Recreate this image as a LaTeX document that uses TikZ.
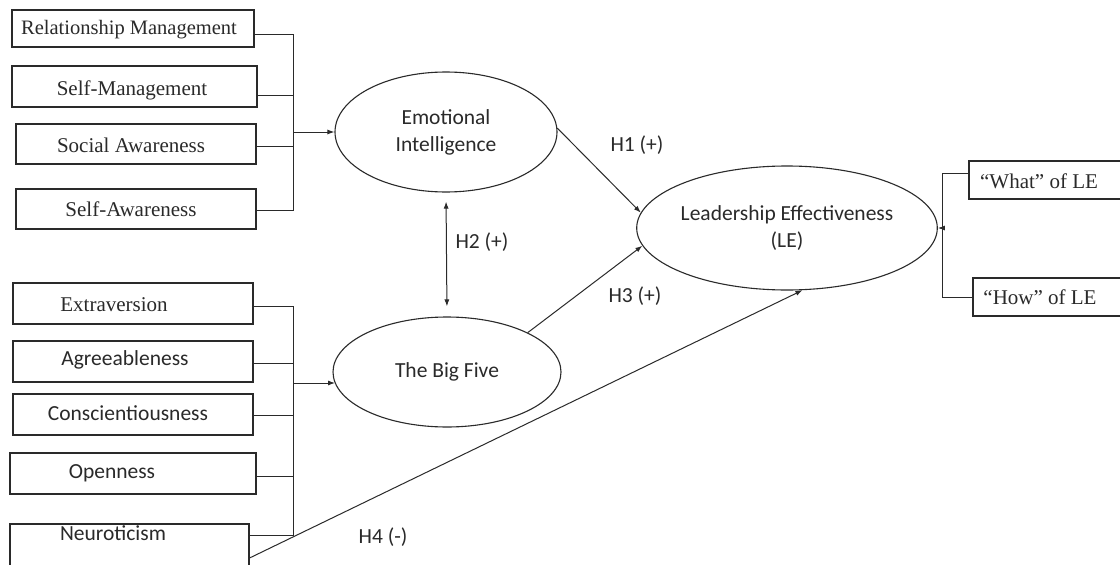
\documentclass[tikz,border=0pt]{standalone}
\usepackage{fontspec}
\setmainfont{Liberation Serif}
\newfontfamily\clbfont{Carlito}
\usetikzlibrary{shapes.geometric,arrows.meta}
\definecolor{ink}{HTML}{2A2A2A}
\begin{document}
\begin{tikzpicture}[x=1pt,y=-1pt,
  box/.style={draw=ink, line width=1.1pt, inner sep=0pt, rectangle},
  oval/.style={draw=ink, ellipse, line width=1.1pt, inner sep=0pt, align=center, text=ink,
    font=\clbfont\fontsize{21.5}{27}\selectfont},
  tms/.style={font=\fontsize{21}{25}\selectfont, inner sep=0pt, text=ink},
  clb/.style={font=\clbfont\fontsize{21.5}{26}\selectfont, inner sep=0pt, text=ink},
  conn/.style={draw=ink, line width=1pt},
  arr/.style={draw=ink, line width=1pt, -{Latex[length=7pt,width=5pt]}},
  dbl/.style={draw=ink, line width=1pt, {Latex[length=7pt,width=5pt]}-{Latex[length=7pt,width=5pt]}},
]
\clip (0,0) rectangle (1120,565);
\fill[white] (0,0) rectangle (1120,565);

% left boxes, emotional intelligence
\node[box, minimum width=242pt, minimum height=37pt] (rm) at (133,28.5) {};
\node[tms, font=\fontsize{20.5}{25}\selectfont] (rmT) at (129,30) {Relationship Management};
\node[box, minimum width=245pt, minimum height=41pt] (sm) at (134.5,86.5) {};
\node[tms] (smT) at (132,90) {Self-Management};
\node[box, minimum width=240pt, minimum height=40pt] (soc) at (136,144) {};
\node[tms] (socT) at (131,145) {Social Awareness};
\node[box, minimum width=240pt, minimum height=40pt] (sfa) at (136,209) {};
\node[tms] (sfaT) at (131,209) {Self-Awareness};

% left boxes, big five
\node[box, minimum width=240pt, minimum height=41pt] (ext) at (133,303.5) {};
\node[tms] (extT) at (114,305) {Extraversion};
\node[box, minimum width=240pt, minimum height=41pt] (agr) at (133,361.5) {};
\node[clb] (agrT) at (125,360) {Agreeableness};
\node[box, minimum width=240pt, minimum height=41pt] (con) at (133,414.5) {};
\node[clb] (conT) at (128,413) {Conscientiousness};
\node[box, minimum width=246pt, minimum height=41pt] (opn) at (133,473.5) {};
\node[clb] (opnT) at (112,473) {Openness};
\node[box, minimum width=239pt, minimum height=68pt] (neu) at (129.5,558) {};
\node[clb] (neuT) at (113,533) {Neuroticism};

% right boxes
\node[box, minimum width=161pt, minimum height=38pt] (what) at (1049.5,180) {};
\node[tms] (whatT) at (1039,181) {“What” of LE};
\node[box, minimum width=157pt, minimum height=38pt] (how) at (1051.5,297) {};
\node[tms] (howT) at (1040,297) {“How” of LE};

% ellipses
\node[oval, minimum width=222pt, minimum height=120pt] (ei) at (446,132) {Emotional\\Intelligence};
\node[oval, minimum width=228pt, minimum height=110pt] (bf) at (447,372) {The Big Five};
\node[oval, minimum width=250pt, minimum height=124pt] (le) at (787,228) {Leadership Effectiveness\\(LE)};

% brackets
\coordinate (eiTop) at (293,34);
\coordinate (eiJ2) at (293,95);
\coordinate (eiJ3) at (293,146);
\coordinate (eiBot) at (293,210);
\coordinate (eiMid) at (293,132);
\draw[conn] (rm.east |- eiTop) -- (eiTop) -- (eiBot) -- (sfa.east |- eiBot);
\draw[conn] (sm.east |- eiJ2) -- (eiJ2);
\draw[conn] (soc.east |- eiJ3) -- (eiJ3);
\draw[arr] (eiMid) -- (eiMid -| ei.west);

\coordinate (bTop) at (293,306);
\coordinate (bJ2) at (293,363);
\coordinate (bJ3) at (293,415);
\coordinate (bJ4) at (293,476);
\coordinate (bBot) at (293,535);
\coordinate (bMid) at (293,383);
\draw[conn] (ext.east |- bTop) -- (bTop) -- (bBot) -- (neu.east |- bBot);
\draw[conn] (agr.east |- bJ2) -- (bJ2);
\draw[conn] (con.east |- bJ3) -- (bJ3);
\draw[conn] (opn.east |- bJ4) -- (bJ4);
\draw[arr] (bMid) -- (bMid -| bf.186);

\coordinate (rTop) at (942,173);
\coordinate (rBot) at (942,297);
\coordinate (rMid) at (942,228);
\draw[conn] (what.west |- rTop) -- (rTop) -- (rBot) -- (how.west |- rBot);
\draw[arr] (rMid) -- (le.east);

% hypotheses
\draw[arr] (ei.2) -- (le.174);
\draw[dbl, shorten <=9pt, shorten >=10pt] (ei.south) -- (bf.north);
\draw[arr] (bf.26) -- (le.187);
\draw[arr] (neu.east) -- (le.284);

\node[clb] (h1) at (637,145) {H1 (+)};
\node[clb] (h2) at (482,242) {H2 (+)};
\node[clb] (h3) at (635,296) {H3 (+)};
\node[clb] (h4) at (383,537) {H4 (-)};
\end{tikzpicture}
\end{document}
